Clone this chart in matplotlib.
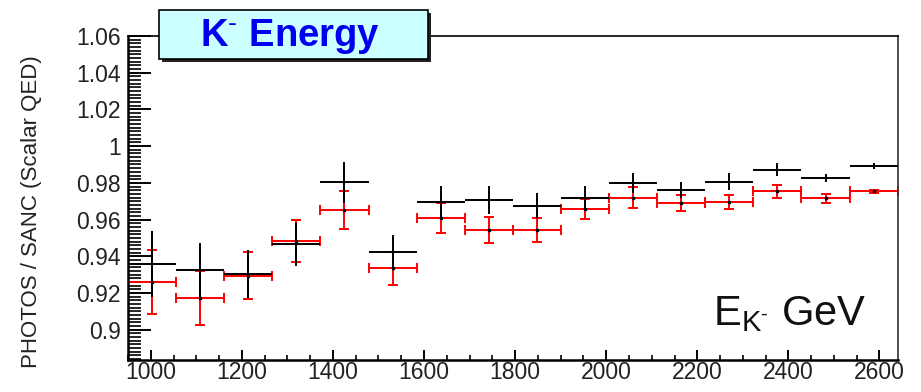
import numpy as np
import matplotlib
matplotlib.use("Agg")
import matplotlib.pyplot as plt
from matplotlib.patches import Rectangle
from matplotlib.ticker import MultipleLocator, FuncFormatter

plt.rcParams["font.family"] = ["Liberation Sans", "DejaVu Sans"]
plt.rcParams["mathtext.fontset"] = "custom"
plt.rcParams["mathtext.rm"] = "Liberation Sans"
plt.rcParams["mathtext.it"] = "Liberation Sans:italic"
plt.rcParams["mathtext.bf"] = "Liberation Sans:bold"

# Kaon energy bins (GeV)
bin_edges = np.linspace(950, 2640, 17)

# PHOTOS / SANC ratio, two configurations
black_ratio = [0.9359, 0.9325, 0.9305, 0.9466, 0.9804, 0.9426, 0.9693, 0.9707,
               0.9675, 0.9717, 0.9798, 0.9762, 0.9807, 0.9871, 0.9826, 0.9893]
black_err = [0.0179, 0.0147, 0.0131, 0.0118, 0.0112, 0.0091, 0.0090, 0.0077,
             0.0068, 0.0066, 0.0053, 0.0045, 0.0044, 0.0036, 0.0024, 0.0015]
red_ratio = [0.9258, 0.9172, 0.9295, 0.9484, 0.9653, 0.9334, 0.9610, 0.9544,
             0.9544, 0.9657, 0.9720, 0.9690, 0.9697, 0.9753, 0.9717, 0.9753]
red_err = [0.0175, 0.0148, 0.0130, 0.0115, 0.0104, 0.0091, 0.0082, 0.0072,
           0.0065, 0.0056, 0.0056, 0.0043, 0.0038, 0.0034, 0.0025, 0.0006]

title_text = r"$\mathbf{K}^{\mathbf{\text{-}}}$ Energy"
y_label = "PHOTOS / SANC (Scalar QED)"
x_label = r"E$_{\mathregular{K}^{\text{-}}}$ GeV"

W, H = 921, 392
fig = plt.figure(figsize=(W / 100, H / 100), dpi=100)


def fx(px):
    return px / W


def fy(py):
    return 1 - py / H


ax = fig.add_axes([fx(128), fy(360), fx(897.7) - fx(128), fy(36) - fy(360)])

centers = 0.5 * (bin_edges[:-1] + bin_edges[1:])
half_w = 0.5 * np.diff(bin_edges)

ax.errorbar(centers, red_ratio, xerr=half_w, yerr=red_err, fmt="none",
            ecolor="#ff0000", elinewidth=1.4, capsize=3.6, capthick=1.4, zorder=2)
ax.errorbar(centers, black_ratio, xerr=half_w, yerr=black_err, fmt="none",
            ecolor="black", elinewidth=1.4, capsize=0, zorder=3)
ax.plot(centers, red_ratio, linestyle="none", marker="s", ms=1.6,
        color="black", zorder=4)

ax.set_xlim(950, 2640)
ax.set_ylim(0.8835, 1.06)

ax.xaxis.set_major_locator(MultipleLocator(200))
ax.xaxis.set_minor_locator(MultipleLocator(50))
ax.yaxis.set_major_locator(MultipleLocator(0.02))
ax.yaxis.set_minor_locator(MultipleLocator(0.002))
ax.yaxis.set_major_formatter(FuncFormatter(lambda v, p: f"{v:.2f}".rstrip("0").rstrip(".")))

ax.tick_params(axis="both", which="both", direction="in", top=False, right=False,
               colors="black", labelsize=16.5)
ax.tick_params(axis="y", which="major", length=16.6, width=1.4, pad=5)
ax.tick_params(axis="y", which="minor", length=9.4, width=1.2)
ax.tick_params(axis="x", which="major", length=7.2, width=1.4, pad=1)
ax.tick_params(axis="x", which="minor", length=3.6, width=1.2)
for lbl in ax.get_xticklabels() + ax.get_yticklabels():
    lbl.set_color("#222222")

for side in ["left", "bottom"]:
    ax.spines[side].set_linewidth(1.8)
for side in ["top", "right"]:
    ax.spines[side].set_linewidth(1.2)
ax.spines["right"].set_color("#333333")

# Axis titles
fig.text(fx(32), fy(212), y_label, rotation=90, ha="center", va="center",
         fontsize=16, color="#222222")
fig.text(fx(713), fy(325), x_label, ha="left", va="baseline", fontsize=30,
         color="#111111")

# Title box with drop shadow
bx0, by0, bx1, by1 = 159, 10, 428, 59
fig.patches.append(Rectangle((fx(bx0 + 3), fy(by1 + 3)), fx(bx1) - fx(bx0),
                             fy(by0) - fy(by1), transform=fig.transFigure,
                             facecolor="#222222", edgecolor="none", zorder=5))
fig.patches.append(Rectangle((fx(bx0), fy(by1)), fx(bx1) - fx(bx0),
                             fy(by0) - fy(by1), transform=fig.transFigure,
                             facecolor="#ccffff", edgecolor="black", linewidth=1.2,
                             zorder=6))
fig.text(fx(290), fy(46), title_text, ha="center", va="baseline", fontsize=27.5,
         fontweight="bold", color="#0000ee", zorder=7)

fig.savefig("out.png", dpi=100)
